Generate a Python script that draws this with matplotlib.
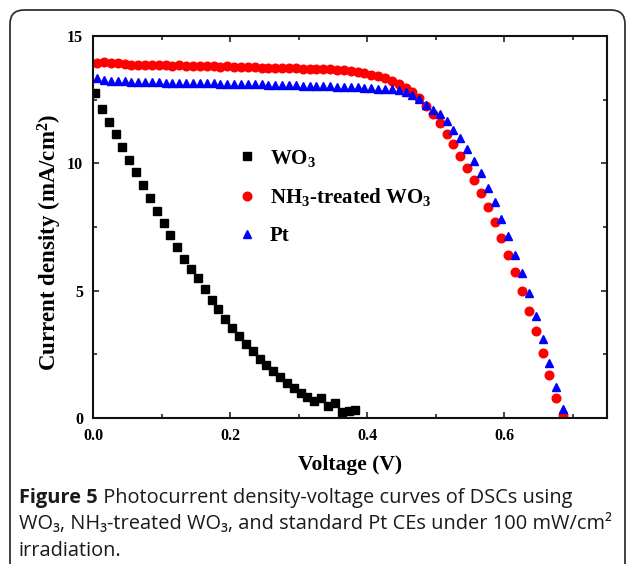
import numpy as np
import matplotlib
matplotlib.use("Agg")
import matplotlib.pyplot as plt
from matplotlib.patches import FancyBboxPatch
from matplotlib.transforms import IdentityTransform
from matplotlib.ticker import MultipleLocator

# --- data ---
# WO3 (black squares)
v_wo3 = np.round(0.003 + 0.01 * np.arange(39), 3)
j_wo3 = [12.75, 12.12, 11.61, 11.14, 10.65, 10.14, 9.65, 9.14, 8.64, 8.14,
         7.64, 7.17, 6.70, 6.25, 5.85, 5.48, 5.08, 4.65, 4.27, 3.89,
         3.53, 3.22, 2.91, 2.62, 2.33, 2.08, 1.83, 1.61, 1.39, 1.19,
         0.99, 0.81, 0.66, 0.80, 0.46, 0.58, 0.25, 0.29, 0.31]

# NH3-treated WO3 (red circles) and Pt (blue triangles), same voltage grid
v_cell = np.round(0.006 + 0.01 * np.arange(69), 3)
j_nh3 = [13.95, 13.97, 13.93, 13.92, 13.90, 13.88, 13.88, 13.87, 13.86, 13.86,
         13.85, 13.84, 13.85, 13.83, 13.82, 13.83, 13.82, 13.81, 13.80, 13.81,
         13.80, 13.79, 13.78, 13.79, 13.76, 13.75, 13.74, 13.74, 13.73, 13.73,
         13.72, 13.72, 13.71, 13.70, 13.69, 13.68, 13.65, 13.62, 13.58, 13.54,
         13.48, 13.42, 13.34, 13.24, 13.12, 12.97, 12.80, 12.58, 12.25, 11.92,
         11.58, 11.17, 10.75, 10.28, 9.81, 9.34, 8.85, 8.27, 7.70, 7.05,
         6.40, 5.75, 5.00, 4.20, 3.42, 2.57, 1.68, 0.80, 0.12]
j_pt = [13.35, 13.27, 13.25, 13.22, 13.22, 13.20, 13.20, 13.19, 13.18, 13.18,
        13.17, 13.17, 13.16, 13.16, 13.15, 13.15, 13.14, 13.14, 13.13, 13.13,
        13.12, 13.12, 13.11, 13.11, 13.10, 13.09, 13.09, 13.08, 13.07, 13.06,
        13.05, 13.05, 13.04, 13.03, 13.02, 13.01, 13.00, 12.99, 12.98, 12.96,
        12.95, 12.93, 12.92, 12.90, 12.86, 12.80, 12.70, 12.52, 12.30, 12.09,
        11.92, 11.65, 11.32, 10.98, 10.55, 10.08, 9.62, 9.04, 8.47, 7.83,
        7.14, 6.40, 5.68, 4.90, 4.02, 3.12, 2.17, 1.20, 0.37]

labels = ["WO$_3$", "NH$_3$-treated WO$_3$", "Pt"]
caption_bold = "Figure 5"
caption_rest = " Photocurrent density-voltage curves of DSCs using"
caption_lines = ["WO\u2083, NH\u2083-treated WO\u2083, and standard Pt CEs under 100 mW/cm\u00b2",
                 "irradiation."]

plt.rcParams['font.family'] = ['Liberation Serif', 'DejaVu Serif']
plt.rcParams['font.weight'] = 'bold'
plt.rcParams['axes.labelweight'] = 'bold'
plt.rcParams['mathtext.fontset'] = 'custom'
plt.rcParams['mathtext.rm'] = 'Liberation Serif:bold'
plt.rcParams['mathtext.it'] = 'Liberation Serif:bold'
plt.rcParams['mathtext.bf'] = 'Liberation Serif:bold'

fig = plt.figure(figsize=(6.27, 5.64), dpi=100)
ax = fig.add_axes([0.1483, 0.2589, 0.8198, 0.6773])

ax.plot(v_wo3, j_wo3, 's', color='black', markersize=5.2, label=labels[0])
ax.plot(v_cell, j_nh3, 'o', color='#ff0000', markersize=6.2, label=labels[1])
ax.plot(v_cell, j_pt, '^', color='#0000ff', markersize=6.4, label=labels[2])

ax.set_xlim(0, 0.75)
ax.set_ylim(0, 15)
ax.xaxis.set_minor_locator(MultipleLocator(0.1))
ax.yaxis.set_major_locator(MultipleLocator(5))
ax.yaxis.set_minor_locator(MultipleLocator(2.5))
ax.set_xticks([0.0, 0.2, 0.4, 0.6])
ax.set_xticklabels(["0.0", "0.2", "0.4", "0.6"])
ax.tick_params(which='both', direction='in', top=True, right=True,
               labelsize=11.5, width=1.1, color='#111111')
ax.tick_params(which='major', length=4.5, pad=7)
ax.tick_params(which='minor', length=3)
for s in ax.spines.values():
    s.set_linewidth(1.5)
    s.set_color('#111111')

ax.set_xlabel("Voltage (V)", fontsize=15.5, labelpad=8)
ax.set_ylabel("Current density (mA/cm$^2$)", fontsize=16.5)
ax.yaxis.set_label_coords(-0.056, 0.46)

ax.legend(loc='upper left', bbox_to_anchor=(0.279, 0.708), frameon=False,
          fontsize=15, handlelength=1.0, handletextpad=0.6,
          labelspacing=0.85, borderpad=0, borderaxespad=0, numpoints=1)

# rounded frame around the figure
frame = FancyBboxPatch((10, -30), 615, 584, boxstyle="round,pad=0,rounding_size=14",
                       transform=IdentityTransform(), fill=False,
                       edgecolor='#333333', linewidth=1.3)
fig.add_artist(frame)

# caption
cap_font = ['Open Sans', 'DejaVu Sans']
cap_size = 14.4
renderer = fig.canvas.get_renderer()
t0 = fig.text(19 / 627, 1 - 498 / 564, caption_bold, family=cap_font, weight='bold',
              fontsize=cap_size, va='center', ha='left', color='#1a1a1a')
bb = t0.get_window_extent(renderer)
fig.text(bb.x1 / 627, 1 - 498 / 564, caption_rest, family=cap_font, weight='normal',
         fontsize=cap_size, va='center', ha='left', color='#1a1a1a')
for i, line in enumerate(caption_lines):
    fig.text(19 / 627, 1 - (524 + 26.5 * i) / 564, line, family=cap_font, weight='normal',
             fontsize=cap_size, va='center', ha='left', color='#1a1a1a')

fig.savefig("out.png", dpi=100)
